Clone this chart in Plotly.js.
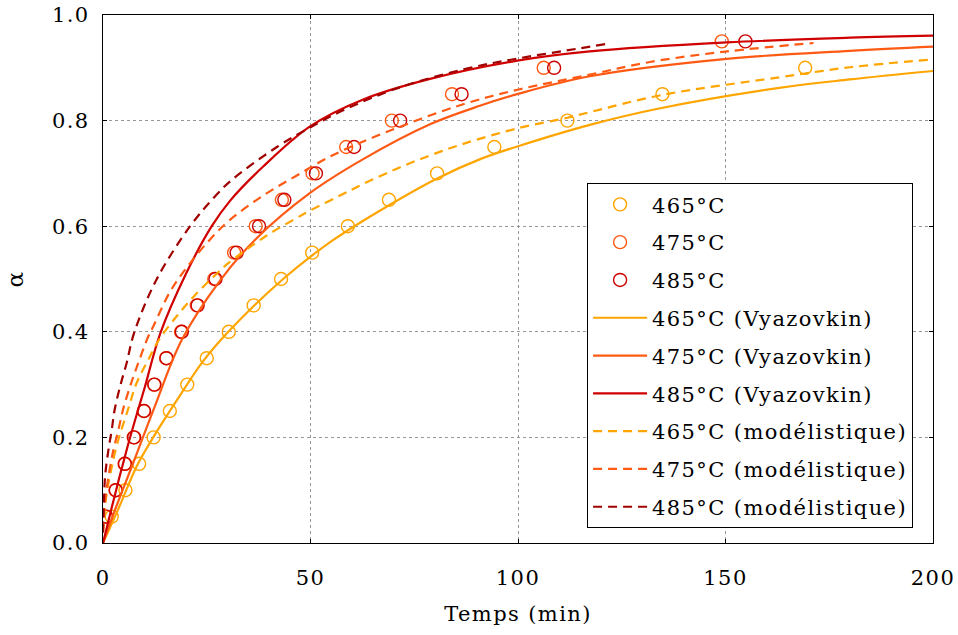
<!DOCTYPE html>
<html>
<head>
<meta charset="utf-8">
<script src="https://cdn.plot.ly/plotly-3.0.1.min.js"></script>
<style>
html,body{margin:0;padding:0;background:#fff;}
#chart{width:958px;height:635px;}
svg text{letter-spacing:1.4px;}
</style>
</head>
<body>
<div id="chart"></div>
<script>
// Experimental points (alpha levels and times in min)
const alphaPts = [0.05,0.10,0.15,0.20,0.25,0.30,0.35,0.40,0.45,0.50,0.55,0.60,0.65,0.70,0.75,0.80,0.85,0.90,0.95];
const t465 = [2.1,5.4,8.7,12.2,16.1,20.3,25.0,30.3,36.3,42.9,50.4,59.0,68.9,80.5,94.3,111.9,134.8,169.2];
const t475 = [0.7,3.0,5.2,7.4,9.8,12.3,15.2,18.8,22.6,26.8,31.6,36.8,43.1,50.5,58.6,69.6,84.1,106.2,149.1];
const t485 = [0.8,3.1,5.3,7.5,9.9,12.4,15.3,19.0,22.8,27.1,32.2,37.6,43.7,51.3,60.5,71.6,86.4,108.7,154.8];

// Vyazovkin (solid) curves
const tV465 = [0,4,8.1,12.1,18.6,24,30.2,43.4,55.5,69.2,80.4,91.2,100.2,117.3,133.4,163,180,200];
const aV465 = [0,0.07,0.145,0.2,0.28,0.343,0.40,0.50,0.574,0.641,0.69,0.728,0.752,0.792,0.822,0.862,0.878,0.894];
const tV475 = [0,3,7.3,12.3,19,28.2,36.6,49.9,62.7,78.8,90.8,100.2,117.3,150.3,180,200];
const aV475 = [0,0.065,0.152,0.255,0.385,0.497,0.574,0.663,0.727,0.793,0.828,0.851,0.884,0.917,0.932,0.94];
const tV485 = [0,2,4,6,8,10,13.8,20,26.2,30.6,38.6,49.9,62.7,78.8,100.2,117.3,150.3,180,200];
const aV485 = [0,0.064,0.126,0.185,0.24,0.293,0.397,0.51,0.60,0.648,0.713,0.789,0.84,0.879,0.914,0.931,0.948,0.957,0.961];

// Modélistique (dashed) curves
const tM465 = [0,0.5,1,2,3.5,6,8.1,10.9,13.5,17.8,22,27.4,30.2,39,46.3,50,57.1,62.7,70.8,78.8,86.8,100.2,111.7,117.3,135,163,180,200];
const aM465 = [0.02,0.07,0.10,0.14,0.19,0.252,0.303,0.347,0.385,0.43,0.468,0.51,0.53,0.58,0.614,0.63,0.658,0.68,0.709,0.734,0.756,0.786,0.805,0.816,0.849,0.882,0.901,0.916];
const tM475 = [0,0.4,1.2,2.5,3.7,4.8,6.5,8.5,10.9,12.1,16.1,20.5,25.8,30.6,38.6,46.7,55.5,70.8,86.8,100.2,117.3,131.8,150.3,171.2];
const aM475 = [0.02,0.07,0.12,0.176,0.214,0.252,0.296,0.341,0.391,0.41,0.475,0.525,0.575,0.612,0.658,0.696,0.735,0.786,0.831,0.859,0.887,0.911,0.931,0.947];
const tM485 = [0,0.2,0.5,1.3,2.1,2.8,4.1,5.7,7.5,12.9,21,27.4,31.4,41.9,49.9,58,70.8,86.8,100.2,115,121];
const aM485 = [0.02,0.07,0.126,0.176,0.214,0.252,0.296,0.341,0.398,0.499,0.60,0.66,0.69,0.75,0.787,0.82,0.861,0.897,0.918,0.937,0.945];

const xTicks = [0,50,100,150,200];
const yTicks = [0,0.2,0.4,0.6,0.8,1.0];

const C465 = '#FFA500', C475 = '#FF5A14', C485 = '#D00000', C485d = '#A00000';
const FONT = 'DejaVu Serif';

function pts(name, t, color, g){
  return {x:t, y:alphaPts.slice(0,t.length), name:name, mode:'markers', type:'scatter', legendgroup:g,
    marker:{symbol:'circle-open', size:13, color:color, line:{width:1.4, color:color}}};
}
function line(name, t, a, color, dash, g){
  return {x:t, y:a, name:name, mode:'lines', type:'scatter', legendgroup:g,
    line:{color:color, width:2.2, dash:dash, shape:'spline', smoothing:1}};
}
const traces = [
  pts('465°C', t465, C465, 'g1'),
  pts('475°C', t475, C475, 'g2'),
  pts('485°C', t485, '#CC0000', 'g3'),
  line('465°C (Vyazovkin)', tV465, aV465, C465, 'solid', 'g4'),
  line('475°C (Vyazovkin)', tV475, aV475, C475, 'solid', 'g5'),
  line('485°C (Vyazovkin)', tV485, aV485, C485, 'solid', 'g6'),
  line('465°C (modélistique)', tM465, aM465, C465, '9px,6px', 'g7'),
  line('475°C (modélistique)', tM475, aM475, C475, '9px,6px', 'g8'),
  line('485°C (modélistique)', tM485, aM485, C485d, '9px,6px', 'g9')
];

const layout = {
  width:958, height:635,
  margin:{l:103, r:25, t:15, b:92},
  paper_bgcolor:'#fff', plot_bgcolor:'#fff',
  font:{family:FONT, size:21, color:'#000'},
  showlegend:true,
  legend:{x:0.976, y:0.028, xanchor:'right', yanchor:'bottom', bgcolor:'#fff',
    bordercolor:'#000', borderwidth:1, font:{family:FONT, size:21, color:'#000'},
    tracegroupgap:7.5, traceorder:'grouped', itemwidth:54},
  xaxis:{range:[0,200], tickvals:xTicks, ticktext:xTicks.map(String),
    showgrid:true, gridcolor:'#8c8c8c', griddash:'3px,3px', gridwidth:0.9,
    zeroline:false, showline:true, linecolor:'#000', linewidth:1.3, mirror:'ticks',
    ticks:'inside', ticklen:4, tickcolor:'#000', ticklabelstandoff:15,
    title:{text:'Temps (min)', font:{family:FONT, size:21}, standoff:17}},
  yaxis:{range:[0,1], tickvals:yTicks, ticktext:yTicks.map(v=>v.toFixed(1)),
    showgrid:true, gridcolor:'#8c8c8c', griddash:'3px,3px', gridwidth:0.9,
    zeroline:false, showline:true, linecolor:'#000', linewidth:1.3, mirror:'ticks',
    ticks:'inside', ticklen:4, tickcolor:'#000', ticklabelstandoff:8,
    title:{text:'α', font:{family:FONT, size:23}, standoff:21}}
};
Plotly.newPlot('chart', traces, layout, {displayModeBar:false, staticPlot:true});
</script>
</body>
</html>
